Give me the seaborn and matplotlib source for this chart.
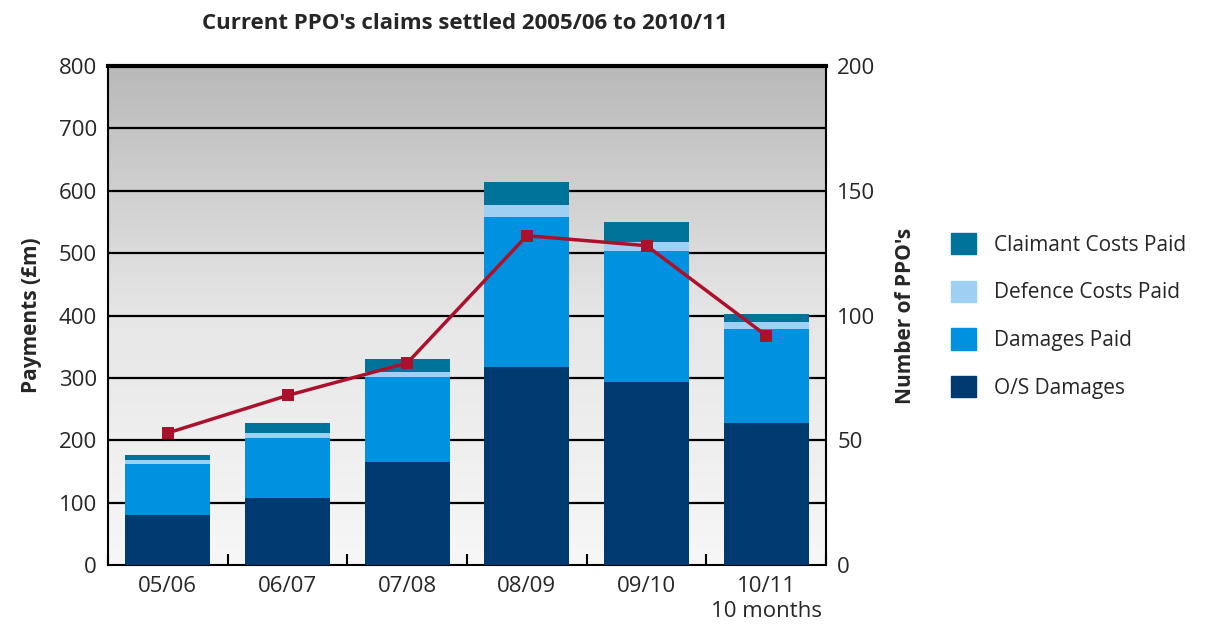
import numpy as np
import pandas as pd
import matplotlib
matplotlib.use("Agg")
import matplotlib.pyplot as plt
import seaborn as sns
from matplotlib.patches import Patch
from matplotlib.colors import LinearSegmentedColormap

years = ["05/06", "06/07", "07/08", "08/09", "09/10", "10/11\n10 months"]
os_damages = [81, 107, 165, 317, 293, 228]
damages_paid = [81, 97, 136, 241, 211, 151]
defence_costs = [6, 8, 8, 19, 14, 10]
claimant_costs = [8, 16, 21, 37, 32, 14]
num_ppos = [53, 68, 81, 132, 128, 92]

series = ["O/S Damages", "Damages Paid", "Defence Costs Paid", "Claimant Costs Paid"]
colors = {"O/S Damages": "#003a70", "Damages Paid": "#0091e0",
          "Defence Costs Paid": "#9dd0f2", "Claimant Costs Paid": "#00739a"}

df = pd.DataFrame({"year": years, "O/S Damages": os_damages, "Damages Paid": damages_paid,
                   "Defence Costs Paid": defence_costs, "Claimant Costs Paid": claimant_costs})
cum = df[series].cumsum(axis=1)

sns.set_theme(style="white")
plt.rcParams["font.family"] = ["Open Sans", "DejaVu Sans"]

fig = plt.figure(figsize=(12.18, 6.28), dpi=100)
ax = fig.add_axes([0.0887, 0.1, 0.5895, 0.795])

# gradient background
grad = LinearSegmentedColormap.from_list("bg", ["#f7f7f7", "#e6e6e6", "#b9b9b9"])
ax.imshow(np.linspace(0, 1, 256).reshape(-1, 1), cmap=grad, aspect="auto", origin="lower",
          extent=[-0.5, 5.5, 0, 800], zorder=0)

# stacked bars: draw cumulative totals from top down
for s in reversed(series):
    sns.barplot(x=df["year"], y=cum[s], color=colors[s], width=0.71, saturation=1,
                ax=ax, zorder=3, linewidth=0)

ax.set_xlim(-0.5, 5.5)
ax.set_ylim(0, 800)
ax.set_yticks(range(0, 801, 100))
for y in range(100, 800, 100):
    ax.axhline(y, color="black", lw=1.6, zorder=1)
ax.set_xlabel("")
ax.set_ylabel("Payments (£m)", fontsize=15, fontweight="bold", labelpad=12)
ax.tick_params(axis="both", labelsize=16, length=0, pad=8)
ax.set_xticks(np.arange(-0.5, 5.6, 1), minor=True)
ax.tick_params(axis="x", which="minor", direction="in", length=8, width=1.5, color="black", bottom=True)
for side in ["left", "right", "bottom"]:
    ax.spines[side].set_color("black")
    ax.spines[side].set_linewidth(1.5)
ax.spines["top"].set_color("black")
ax.spines["top"].set_linewidth(3)

ax2 = ax.twinx()
sns.lineplot(x=np.arange(len(years)), y=num_ppos, ax=ax2, color="#ac112c", lw=2.5,
             marker="s", markersize=9, markeredgewidth=0, zorder=5)
ax2.set_ylim(0, 200)
ax2.set_yticks(range(0, 201, 50))
ax2.set_ylabel("Number of PPO's", fontsize=15, fontweight="bold", labelpad=14)
ax2.tick_params(axis="y", labelsize=16, length=0, pad=8)
ax2.grid(False)
for sp in ax2.spines.values():
    sp.set_visible(False)

fig.text(0.382, 0.962, "Current PPO's claims settled 2005/06 to 2010/11", ha="center", va="center",
         fontsize=16, fontweight="bold")

handles = [Patch(color=colors[s], label=s) for s in reversed(series)]
fig.legend(handles=handles, loc="center left", bbox_to_anchor=(0.765, 0.497), frameon=False,
           fontsize=15, handlelength=1.2, handleheight=1.2, labelspacing=1.2, handletextpad=0.9)

fig.savefig("out.png", dpi=100)
